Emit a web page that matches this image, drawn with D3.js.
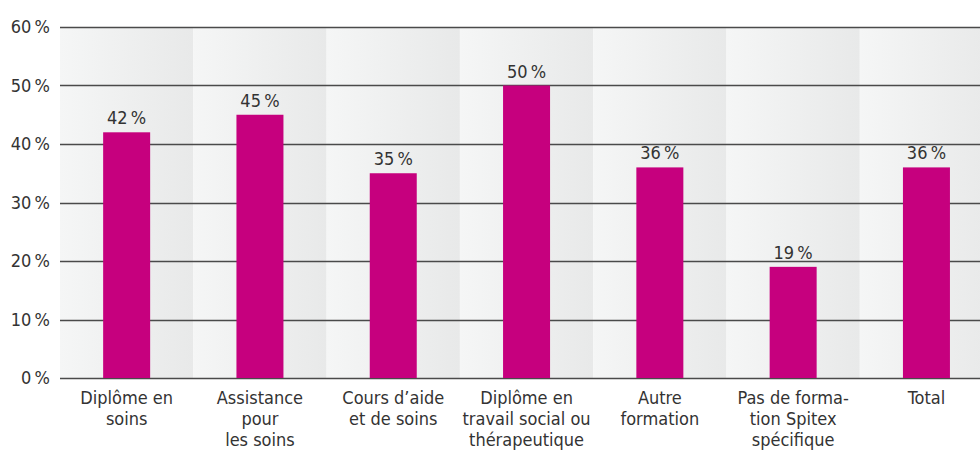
<!DOCTYPE html>
<html>
<head>
<meta charset="utf-8">
<script src="https://cdn.jsdelivr.net/npm/d3@7"></script>
<style>
  body { margin: 0; background: #fff; }
  text { font-family: "DejaVu Sans Condensed", "DejaVu Sans", sans-serif; fill: #333; }
</style>
</head>
<body>
<div id="chart"></div>
<script>
var categories = [
    ["Diplôme en", "soins"],
    ["Assistance", "pour", "les soins"],
    ["Cours d’aide", "et de soins"],
    ["Diplôme en", "travail social ou", "thérapeutique"],
    ["Autre", "formation"],
    ["Pas de forma-", "tion Spitex", "spécifique"],
    ["Total"]
];
var values = [42, 45, 35, 50, 36, 19, 36];
var yTicks = [0, 10, 20, 30, 40, 50, 60];

var width = 980, height = 450;
var margin = {top: 27, left: 60, bottom: 72};
var bandW = 133.3;

var svg = d3.select("#chart").append("svg")
    .attr("width", width)
    .attr("height", height);

// band gradient
var grad = svg.append("defs").append("linearGradient")
    .attr("id", "bandGrad")
    .attr("x1", "0").attr("x2", "1").attr("y1", "0").attr("y2", "0");
grad.append("stop").attr("offset", "0%").attr("stop-color", "#f5f6f6");
grad.append("stop").attr("offset", "100%").attr("stop-color", "#e8e9e9");

var x = d3.scaleBand()
    .domain(d3.range(categories.length))
    .range([margin.left, margin.left + bandW * categories.length])
    .padding(0);

var y = d3.scaleLinear()
    .domain([0, 60])
    .range([height - margin.bottom, margin.top]);

// background bands
svg.append("g").selectAll("rect")
    .data(d3.range(categories.length))
    .enter()
    .append("rect")
    .attr("x", function(d) { return x(d); })
    .attr("y", y(60))
    .attr("width", x.bandwidth())
    .attr("height", y(0) - y(60))
    .style("fill", "url(#bandGrad)");

// gridlines
svg.append("g").selectAll("line")
    .data(yTicks)
    .enter()
    .append("line")
    .attr("x1", margin.left)
    .attr("x2", width)
    .attr("y1", function(d) { return Math.round(y(d)) + 0.5; })
    .attr("y2", function(d) { return Math.round(y(d)) + 0.5; })
    .style("stroke", "#4a4a4a")
    .style("stroke-width", 1.5);

// y tick labels
svg.append("g").selectAll("text")
    .data(yTicks)
    .enter()
    .append("text")
    .attr("x", 50)
    .attr("y", function(d) { return y(d) + 6; })
    .attr("text-anchor", "end")
    .style("font-size", "18px")
    .text(function(d) { return d + "\u2009%"; });

// bars
var barW = 47;
svg.append("g").selectAll("rect")
    .data(values)
    .enter()
    .append("rect")
    .attr("x", function(d, i) { return x(i) + x.bandwidth() / 2 - barW / 2; })
    .attr("y", function(d) { return y(d); })
    .attr("width", barW)
    .attr("height", function(d) { return y(0) - y(d); })
    .style("fill", "#c6007e");

// value labels
svg.append("g").selectAll("text")
    .data(values)
    .enter()
    .append("text")
    .attr("x", function(d, i) { return x(i) + x.bandwidth() / 2; })
    .attr("y", function(d) { return y(d) - 8; })
    .attr("text-anchor", "middle")
    .style("font-size", "18px")
    .text(function(d) { return d + "\u2009%"; });

// category labels
var lab = svg.append("g").selectAll("text")
    .data(categories)
    .enter()
    .append("text")
    .attr("x", function(d, i) { return x(i) + x.bandwidth() / 2; })
    .attr("y", y(0) + 26)
    .attr("text-anchor", "middle")
    .style("font-size", "18px");
lab.selectAll("tspan")
    .data(function(d) { return d; })
    .enter()
    .append("tspan")
    .attr("x", function() { return d3.select(this.parentNode).attr("x"); })
    .attr("dy", function(d, i) { return i === 0 ? 0 : 21; })
    .text(function(d) { return d; });
</script>
</body>
</html>
